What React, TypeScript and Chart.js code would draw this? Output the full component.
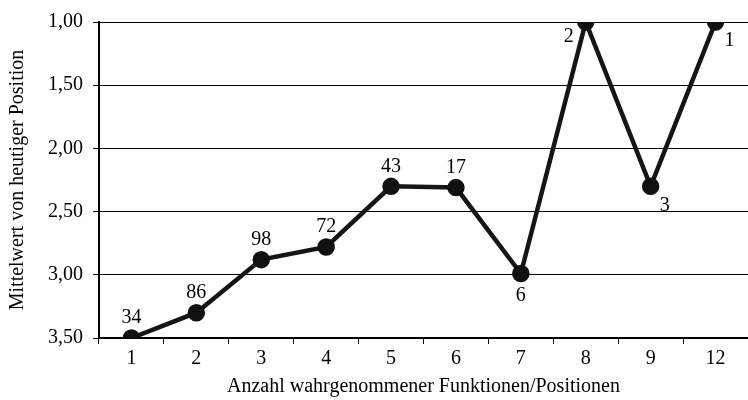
import React, { useEffect, useRef } from "react";
import { Chart, registerables } from "chart.js";

Chart.register(...registerables);

const categories = ["1", "2", "3", "4", "5", "6", "7", "8", "9", "12"];
const meanPosition = [3.5, 3.3, 2.88, 2.78, 2.3, 2.31, 2.99, 1.0, 2.3, 1.0];
const counts = ["34", "86", "98", "72", "43", "17", "6", "2", "3", "1"];
const labelPlacement = ["top", "top", "top", "top", "top", "top", "bottom", "bottomLeft", "bottomRight", "bottomRight"];

const FONT = "'Liberation Serif', 'DejaVu Serif', serif";

const labelPlugin = {
  id: "countLabels",
  afterDatasetsDraw(chart: any) {
    const meta = chart.getDatasetMeta(0);
    const ctx = chart.ctx;
    ctx.save();
    ctx.font = `20px ${FONT}`;
    ctx.fillStyle = "#000";
    ctx.textAlign = "center";
    ctx.textBaseline = "middle";
    meta.data.forEach((pt: any, i: number) => {
      const p = labelPlacement[i];
      let dx = 0, dy = -20;
      if (p === "bottom") { dx = 0; dy = 22; }
      if (p === "bottomLeft") { dx = -17; dy = 15; }
      if (p === "bottomRight") { dx = 14; dy = 19; }
      ctx.fillText(counts[i], pt.x + dx, pt.y + dy);
    });
    ctx.restore();
  },
};

export default function App() {
  const ref = useRef<HTMLCanvasElement>(null);
  useEffect(() => {
    const chart = new Chart(ref.current!, {
      type: "line",
      data: {
        labels: categories,
        datasets: [
          {
            data: meanPosition,
            borderColor: "#151515",
            backgroundColor: "#111",
            borderWidth: 4.5,
            pointRadius: 6.5,
            pointBackgroundColor: "#111",
            pointBorderColor: "#111",
            tension: 0,
          },
        ],
      },
      options: {
        animation: false,
        responsive: false,
        maintainAspectRatio: false,
        layout: { padding: { top: 12, right: 0, bottom: 1, left: 6 } },
        plugins: {
          legend: { display: false },
          tooltip: { enabled: false },
        },
        scales: {
          x: {
            offset: true,
            grid: {
              offset: true,
              drawOnChartArea: false,
              drawTicks: true,
              tickLength: 6,
              color: "#000",
              lineWidth: 1,
            },
            border: { color: "#000", width: 2 },
            ticks: { color: "#000", font: { family: FONT, size: 20 }, padding: 3 },
            title: {
              display: true,
              text: "Anzahl wahrgenommener Funktionen/Positionen",
              color: "#000",
              font: { family: FONT, size: 20 },
              padding: { top: 1, bottom: 0 },
            },
          },
          y: {
            reverse: true,
            min: 1,
            max: 3.5,
            ticks: {
              stepSize: 0.5,
              color: "#000",
              font: { family: FONT, size: 20 },
              padding: 10,
              callback: (v: any) => Number(v).toFixed(2).replace(".", ","),
            },
            grid: { color: "#000", lineWidth: 1, tickLength: 6 },
            border: { color: "#000", width: 2 },
            title: {
              display: true,
              text: "Mittelwert von heutiger Position",
              color: "#000",
              font: { family: FONT, size: 20 },
              padding: { top: 0, bottom: 8 },
            },
          },
        },
      },
      plugins: [labelPlugin],
    });
    return () => chart.destroy();
  }, []);
  return (
    <div style={{ position: "fixed", left: 0, top: 0, width: 748, height: 400, background: "#fff", overflow: "hidden" }}>
      <canvas ref={ref} width={759} height={400} style={{ width: 759, height: 400 }} />
    </div>
  );
}
